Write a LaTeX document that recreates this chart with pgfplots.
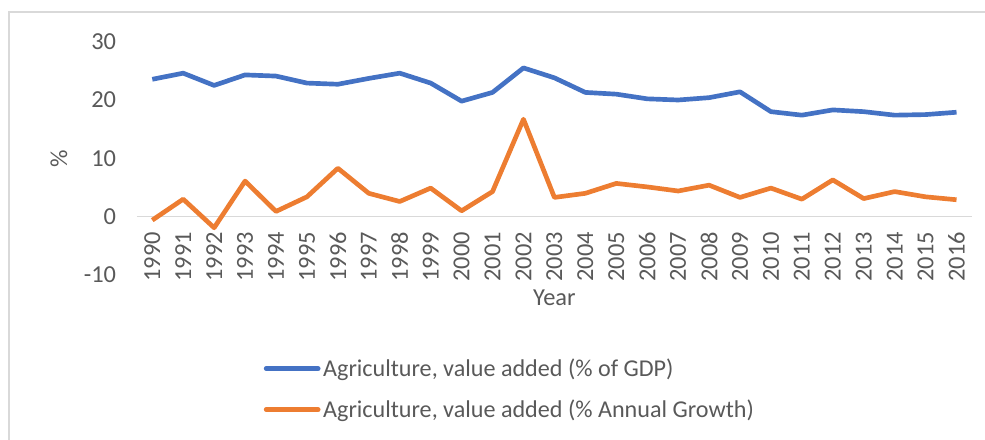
\documentclass[border=0pt]{standalone}
\usepackage{pgfplots}
\pgfplotsset{compat=1.18}
\usepackage{fontspec}
\setmainfont{Carlito}
\definecolor{cblue}{HTML}{4472C4}
\definecolor{corange}{HTML}{ED7D31}
\definecolor{ctext}{HTML}{595959}
\definecolor{cgrid}{HTML}{D9D9D9}
\begin{document}
\begin{tikzpicture}
\useasboundingbox (0,0) rectangle (738.75pt,329.25pt);
\draw[cgrid, line width=1pt] (6.75pt,-5pt) -- (6.75pt,320.25pt) -- (745pt,320.25pt);
\begin{axis}[
  at={(102.6pt,123pt)}, anchor=south west,
  scale only axis, width=626.4pt, height=175pt,
  xmin=-0.5, xmax=26.5, ymin=-10, ymax=30,
  axis x line=middle, axis y line=left,
  x axis line style={cgrid, line width=1pt, -},
  y axis line style={draw=none},
  major tick length=0pt,
  xtick={0,...,26},
  xticklabels={1990,1991,1992,1993,1994,1995,1996,1997,1998,1999,2000,2001,2002,2003,2004,2005,2006,2007,2008,2009,2010,2011,2012,2013,2014,2015,2016},
  ytick={-10,0,10,20,30},
  /pgf/number format/assume math mode=true,
  tick label style={font=\fontsize{18.3}{22}\selectfont, text=ctext},
  xticklabel style={yshift=-8pt, rotate=90, anchor=east},
  yticklabel style={xshift=-12pt},
  xlabel={Year}, ylabel={\%},
  label style={font=\fontsize{18.3}{22}\selectfont, text=ctext},
  xlabel style={at={(axis description cs:0.5,-0.0986)}, anchor=center},
  ylabel style={at={(axis description cs:-0.0932,0.5)}, anchor=center, rotate=0},
  clip=false,
  legend style={draw=none, fill=none, at={(axis description cs:0.147,-0.335)}, anchor=north west,
    font=\fontsize{18.1}{22}\selectfont, text=ctext, row sep=12pt},
  legend cell align=left,
  legend image code/.code={\draw[#1, line width=3.5pt, line cap=round] (0pt,0pt) -- (39pt,0pt);},
]
\addplot[cblue, line width=3.5pt, line join=round] coordinates {
(0,23.55)(1,24.6)(2,22.5)(3,24.3)(4,24.1)(5,22.9)(6,22.7)(7,23.7)(8,24.6)(9,22.9)
(10,19.8)(11,21.3)(12,25.5)(13,23.8)(14,21.3)(15,21.0)(16,20.2)(17,20.0)(18,20.4)(19,21.4)
(20,18.0)(21,17.4)(22,18.3)(23,18.0)(24,17.4)(25,17.5)(26,17.9)};
\addlegendentry{Agriculture, value added (\% of GDP)}
\addplot[corange, line width=3.5pt, line join=round] coordinates {
(0,-0.6)(1,3.0)(2,-1.9)(3,6.1)(4,0.9)(5,3.4)(6,8.3)(7,4.0)(8,2.6)(9,4.9)
(10,1.0)(11,4.3)(12,16.7)(13,3.3)(14,4.0)(15,5.7)(16,5.1)(17,4.4)(18,5.4)(19,3.3)
(20,4.9)(21,3.0)(22,6.3)(23,3.1)(24,4.3)(25,3.4)(26,2.9)};
\addlegendentry{Agriculture, value added (\% Annual Growth)}
\end{axis}
\end{tikzpicture}
\end{document}
